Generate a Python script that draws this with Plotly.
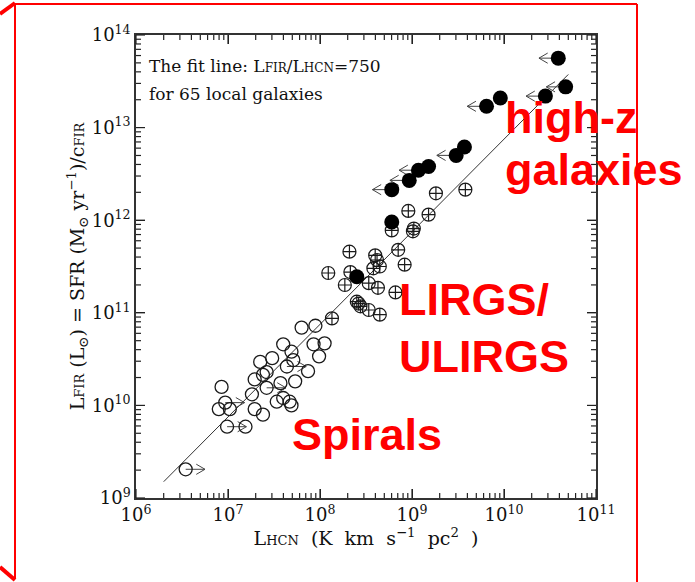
import numpy as np
import plotly.graph_objects as go

# log10 L_HCN and log10 L_FIR for normal spirals
spiral_lhcn = [6.54, 6.93, 6.90, 6.97, 7.02, 6.99, 7.19, 7.26, 7.29, 7.38, 7.29, 7.35,
               7.42, 7.48, 7.42, 7.57, 7.53, 7.60, 7.67, 7.69, 7.73, 7.60, 7.64, 7.69,
               7.71, 7.87, 7.80, 7.95, 7.93, 7.99, 8.05, 7.38]
spiral_lfir = [9.31, 10.20, 9.96, 10.03, 9.96, 9.77, 9.77, 10.12, 9.96, 9.90, 10.28, 10.47,
               10.36, 10.51, 10.19, 10.24, 10.04, 10.08, 10.04, 10.00, 10.26, 10.66, 10.42, 10.58,
               10.49, 10.37, 10.84, 10.86, 10.66, 10.53, 10.67, 10.33]
# spirals whose L_HCN is a lower limit
spiral_limit = [0, 3, 5, 14, 22]

# log10 values for LIRGs / ULIRGs
lirg_lhcn = [9.26, 9.58, 8.96, 9.18, 8.78, 9.01, 9.02, 8.32, 8.60, 8.62, 8.65, 8.58,
             8.85, 8.92, 8.09, 8.33, 8.27, 8.53, 8.63, 8.82, 8.42, 8.44, 8.40, 8.53,
             8.65, 8.13]
lirg_lfir = [12.29, 12.33, 12.10, 12.06, 11.89, 11.88, 11.91, 11.66, 11.62, 11.57, 11.50, 11.48,
             11.68, 11.52, 11.43, 11.44, 11.30, 11.32, 11.27, 11.22, 11.10, 11.07, 11.12, 11.03,
             10.98, 10.94]

# log10 values for high-redshift galaxies
highz_lhcn = [10.59, 10.67, 10.45, 9.96, 9.81, 9.57, 9.48, 9.18, 9.07, 8.97, 8.78, 8.78, 8.40]
highz_lfir = [13.75, 13.44, 13.34, 13.32, 13.23, 12.79, 12.70, 12.58, 12.54, 12.43, 12.33, 11.98, 11.39]
# high-z sources with upper limits on L_HCN
highz_limit = [0, 1, 2, 4, 6, 8, 9, 10]

# fit line L_FIR / L_HCN = 750
fit_ratio = 750.0
fit_lhcn = [2e6, 5e10]

# axis decades (exponents) and minor tick multipliers
x_exps = [6, 7, 8, 9, 10, 11]
y_exps = [9, 10, 11, 12, 13, 14]
minor_mult = [2, 3, 4, 5, 6, 7, 8, 9]

PLOT_W, PLOT_H = 460.0, 463.0  # plot-area size in px


def arrows(lx, ly, idx, direction):
    """Build limit arrows (shaft + open chevron) in log space."""
    xs, ys = [], []
    length, arm_dx, arm_dy = 0.21, 0.095, 0.055
    for i in idx:
        x0, y0 = lx[i], ly[i]
        tip = x0 + direction * length
        back = tip - direction * arm_dx
        for seg in ([(x0, y0), (tip, y0)],
                    [(back, y0 + arm_dy), (tip, y0), (back, y0 - arm_dy)]):
            for px, py in seg:
                xs.append(10 ** px)
                ys.append(10 ** py)
            xs.append(None)
            ys.append(None)
    return xs, ys


fig = go.Figure()

fig.add_trace(go.Scatter(
    x=fit_lhcn, y=[v * fit_ratio for v in fit_lhcn], mode="lines",
    line=dict(color="#333333", width=1), showlegend=False, hoverinfo="skip"))

ax, ay = arrows(spiral_lhcn, spiral_lfir, spiral_limit, +1)
bx, by = arrows(highz_lhcn, highz_lfir, highz_limit, -1)
fig.add_trace(go.Scatter(x=ax + bx, y=ay + by, mode="lines",
                         line=dict(color="#444444", width=1),
                         showlegend=False, hoverinfo="skip"))

fig.add_trace(go.Scatter(
    x=[10 ** v for v in spiral_lhcn], y=[10 ** v for v in spiral_lfir], mode="markers",
    marker=dict(symbol="circle-open", size=13, color="#1a1a1a", line=dict(width=1.3)),
    showlegend=False))
fig.add_trace(go.Scatter(
    x=[10 ** v for v in lirg_lhcn], y=[10 ** v for v in lirg_lfir], mode="markers",
    marker=dict(symbol="circle-cross-open", size=13, color="#1a1a1a", line=dict(width=1.2)),
    showlegend=False))
fig.add_trace(go.Scatter(
    x=[10 ** v for v in highz_lhcn], y=[10 ** v for v in highz_lfir], mode="markers",
    marker=dict(symbol="circle", size=15, color="#000000"),
    showlegend=False))

serif = "DejaVu Serif"
tick_color = "#222222"
axis_common = dict(
    type="log", showgrid=False, zeroline=False,
    ticks="inside", ticklen=9, tickwidth=1.3, tickcolor=tick_color,
    showline=True, linecolor="#333333", linewidth=1.5, mirror="ticks",
    tickfont=dict(family=serif, size=18, color="#111111"),
)


def decade_ticks(exps):
    return dict(tickmode="array", tickvals=[10.0 ** e for e in exps],
                ticktext=["10<sup>%d</sup>" % e for e in exps])


small = "<span style='font-size:{}px'>{}</span>"
sp = "\u00a0"
x_title = ("L" + small.format(13, "HCN") + sp + " (K" + sp + " km" + sp + " s<sup>−1</sup>"
           + sp + " pc<sup>2</sup>" + sp + " )")
y_title = ("L" + small.format(13, "FIR") + " (L<sub>⊙</sub>) = SFR (M<sub>⊙</sub> yr<sup>−1</sup>)/c"
           + small.format(13, "FIR"))

fig.update_layout(
    width=695, height=582,
    margin=dict(l=136, r=99, t=35, b=84),
    paper_bgcolor="white", plot_bgcolor="white",
    xaxis=dict(range=[6, 11], **axis_common, **decade_ticks(x_exps),
               title=dict(text=x_title, font=dict(family=serif, size=19, color="#111111"),
                          standoff=6)),
    yaxis=dict(range=[9, 14], **axis_common, **decade_ticks(y_exps),
               title=dict(text=y_title, font=dict(family=serif, size=19, color="#111111"),
                          standoff=2)),
)


# tick marks on all four sides, placed in axis-domain fractions
def tick_marks(exps, along):
    lo, hi = exps[0], exps[-1]
    span = float(hi - lo)
    marks = [((e - lo) / span, 9) for e in exps]
    marks += [((np.log10(m) + e - lo) / span, 5) for e in exps[:-1] for m in minor_mult]
    for frac, length in marks:
        if along == "x":
            d = length / PLOT_H
            for y0, y1 in ((0, d), (1, 1 - d)):
                fig.add_shape(type="line", xref="x domain", yref="y domain",
                              x0=frac, x1=frac, y0=y0, y1=y1,
                              line=dict(color=tick_color, width=1.2))
        else:
            d = length / PLOT_W
            for x0, x1 in ((0, d), (1, 1 - d)):
                fig.add_shape(type="line", xref="x domain", yref="y domain",
                              x0=x0, x1=x1, y0=frac, y1=frac,
                              line=dict(color=tick_color, width=1.2))


tick_marks(x_exps, "x")
tick_marks(y_exps, "y")


def px_x(p):
    return (p - 136) / PLOT_W


def px_y(p):
    return (498 - p) / PLOT_H


notes = [
    ("The fit line: L" + small.format(12, "FIR") + "/L" + small.format(12, "HCN") + "=750", 147, 66),
    ("for 65 local galaxies", 147, 94),
]
for text, x, y in notes:
    fig.add_annotation(text=text, xref="paper", yref="paper", x=px_x(x), y=px_y(y),
                       xanchor="left", yanchor="middle", showarrow=False,
                       font=dict(family=serif, size=17, color="#111111"))

labels = [("high-z", 503, 117), ("galaxies", 503, 169), ("LIRGS/", 397, 300),
          ("ULIRGS", 397, 356), ("Spirals", 290, 434)]
for text, x, y in labels:
    fig.add_annotation(text="<b>" + text + "</b>", xref="paper", yref="paper",
                       x=px_x(x), y=px_y(y), xanchor="left", yanchor="middle",
                       showarrow=False,
                       font=dict(family="Liberation Sans", size=45, color="#ff0000"))

# red outline around the figure
red = "#ff0000"
frame = [((15, 4), (637, 4), 2), ((15, 4), (15, 579), 2), ((637, 4), (637, 582), 2),
         ((0, 14), (15, 3), 4), ((0, 567), (15, 580), 4)]
for (x0, y0), (x1, y1), w in frame:
    fig.add_shape(type="line", xref="paper", yref="paper",
                  x0=px_x(x0), y0=px_y(y0), x1=px_x(x1), y1=px_y(y1),
                  line=dict(color=red, width=w))

fig.write_html("out.html")
